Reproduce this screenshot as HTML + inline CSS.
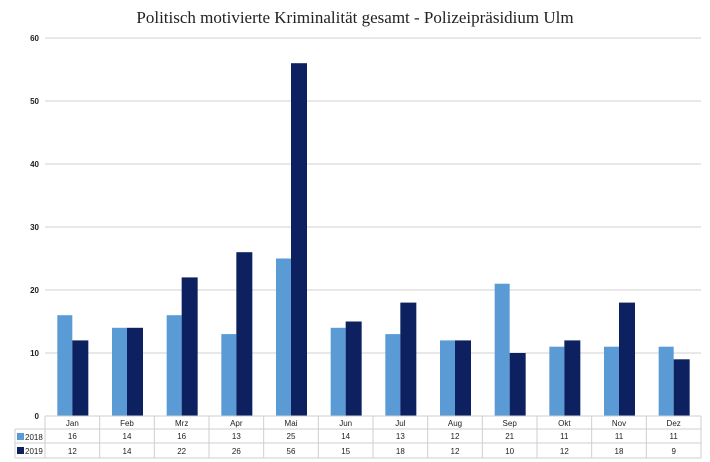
<!DOCTYPE html>
<html><head><meta charset="utf-8"><style>
body{margin:0;background:#fff;width:710px;height:462px;overflow:hidden}
svg{display:block}
text{font-family:"Liberation Sans",sans-serif;font-size:8px;fill:#222}
</style></head><body>
<svg id="c" width="710" height="462">
<text x="355" y="23" text-anchor="middle" style="font-family:'Liberation Serif',serif;font-size:17px;fill:#222">Politisch motivierte Kriminalität gesamt - Polizeipräsidium Ulm</text>
</svg>
<script>
const months=["Jan","Feb","Mrz","Apr","Mai","Jun","Jul","Aug","Sep","Okt","Nov","Dez"];
const s2018=[16,14,16,13,25,14,13,12,21,11,11,11];
const s2019=[12,14,22,26,56,15,18,12,10,12,18,9];
const yTicks=[0,10,20,30,40,50,60];
const svg=document.getElementById('c');const NS='http://www.w3.org/2000/svg';
const L=45,R=701,T=38,B=416,yMax=60;
const cw=(R-L)/months.length;
const y=v=>B-(v/yMax)*(B-T);
const x=i=>L+i*cw;
function mk(t,a){const e=document.createElementNS(NS,t);for(const k in a)e.setAttribute(k,a[k]);svg.appendChild(e);return e;}
yTicks.forEach(v=>{
 const g=mk('line',{x1:L,x2:R,y1:y(v),y2:y(v),stroke:'#d0d0d0','stroke-width':1});
 
 
 const t=mk('text',{x:L-6,y:y(v)+3,'text-anchor':'end','font-weight':'bold'});t.textContent=v;
 
 
});
months.forEach((m,i)=>{
 const c=x(i)+cw/2;
 const b1=mk('rect',{x:c-15,y:y(s2018[i]),width:15,height:B-y(s2018[i]),fill:'#5b9bd5'});
 
 
 const b2=mk('rect',{x:c,y:y(s2019[i]),width:16,height:B-y(s2019[i]),fill:'#0d2160'});
 
 
});
// table
const rows=[416,429,443,458];
const tc='#cfcfcf';
mk('line',{x1:L,x2:R,y1:rows[0],y2:rows[0],stroke:tc});
for(let r=1;r<4;r++)mk('line',{x1:15,x2:R,y1:rows[r],y2:rows[r],stroke:tc});
mk('line',{x1:15,x2:15,y1:rows[1],y2:rows[3],stroke:tc});
for(let i=0;i<=months.length;i++)mk('line',{x1:x(i),x2:x(i),y1:rows[0],y2:rows[3],stroke:tc});
months.forEach((m,i)=>{
 const c=x(i)+cw/2;
 const t=mk('text',{x:c,y:426,'text-anchor':'middle'});t.textContent=m;
 
 
 const a=mk('text',{x:c,y:439,'text-anchor':'middle'});a.textContent=s2018[i];
 
 
 const b=mk('text',{x:c,y:454,'text-anchor':'middle'});b.textContent=s2019[i];
 
 
});
[['2018','#5b9bd5',rows[1]],['2019','#0d2160',rows[2]]].forEach(([n,col,ry])=>{
 const r=mk('rect',{x:17,y:ry+4,width:7,height:7,fill:col});
 
 
 const t=mk('text',{x:25,y:ry+11});t.textContent=n;
 
 
});
</script>
</body></html>
